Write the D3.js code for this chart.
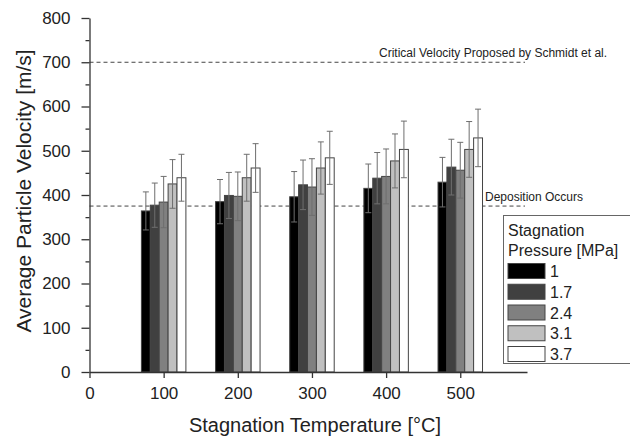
<!DOCTYPE html>
<html>
<head>
<meta charset="utf-8">
<script src="https://cdn.jsdelivr.net/npm/d3@7"></script>
<style>
  body { margin: 0; background: #fff; }
  text { font-family: "Liberation Sans", Arial, sans-serif; fill: #222; }
</style>
</head>
<body>
<script>
// data
var temps = [100, 200, 300, 400, 500];
var pressures = ["1", "1.7", "2.4", "3.1", "3.7"];
var velocity = [
  [364, 385, 396, 415, 429],
  [377, 399, 423, 438, 463],
  [384, 397, 418, 442, 456],
  [425, 439, 461, 477, 503],
  [439, 461, 484, 503, 529]
];
var errors = [
  [43, 50, 57, 55, 56],
  [50, 52, 56, 58, 63],
  [58, 55, 64, 62, 63],
  [55, 53, 59, 61, 63],
  [53, 55, 60, 64, 65]
];
var xTicks = [0, 100, 200, 300, 400, 500];
var yTicks = [0, 100, 200, 300, 400, 500, 600, 700, 800];
var yMinor = [50, 150, 250, 350, 450, 550, 650, 750];
var refLines = [
  { v: 700, label: "Critical Velocity Proposed by Schmidt et al.", tx: 379 },
  { v: 375, label: "Deposition Occurs", tx: 485 }
];
var fills = ["#000000", "#404040", "#808080", "#c0c0c0", "#ffffff"];

var width = 630, height = 437;
var svg = d3.select("body").append("svg")
    .attr("width", width)
    .attr("height", height);

var x = d3.scaleLinear().domain([0, 590]).range([89.5, 527]);
var y = d3.scaleLinear().domain([0, 800]).range([372, 18]);

var barW = 12; // in temperature units
var bw = x(barW) - x(0);

// reference dashed lines
refLines.forEach(function(r) {
  svg.append("line")
      .attr("x1", x(0))
      .attr("x2", 525)
      .attr("y1", y(r.v))
      .attr("y2", y(r.v))
      .attr("stroke", "#444")
      .attr("stroke-width", 1)
      .attr("stroke-dasharray", "4,3");
  svg.append("text")
      .attr("x", r.tx)
      .attr("y", y(r.v) - 5)
      .attr("font-size", 12)
      .text(r.label);
});

// bars
pressures.forEach(function(p, i) {
  var g = svg.append("g");
  temps.forEach(function(t, j) {
    var cx = x(t + (i - 2) * barW);
    var v = velocity[i][j];
    g.append("rect")
        .attr("x", cx - bw / 2)
        .attr("y", y(v))
        .attr("width", bw)
        .attr("height", y(0) - y(v))
        .attr("fill", fills[i])
        .attr("stroke", "#444")
        .attr("stroke-width", 1);
  });
});

// error bars
pressures.forEach(function(p, i) {
  temps.forEach(function(t, j) {
    var cx = x(t + (i - 2) * barW);
    var v = velocity[i][j], e = errors[i][j];
    svg.append("line")
        .attr("x1", cx).attr("x2", cx)
        .attr("y1", y(v - e)).attr("y2", y(v + e))
        .attr("stroke", "#6e6e6e").attr("stroke-width", 1);
    [v - e, v + e].forEach(function(d) {
      svg.append("line")
          .attr("x1", cx - 3).attr("x2", cx + 3)
          .attr("y1", y(d)).attr("y2", y(d))
          .attr("stroke", "#6e6e6e").attr("stroke-width", 1);
    });
  });
});

// axes
var xAxis = svg.append("g")
    .attr("transform", "translate(0," + y(0) + ")")
    .call(d3.axisBottom(x).tickValues(xTicks).tickSize(6).tickSizeOuter(0).tickPadding(9));
var yAxis = svg.append("g")
    .attr("transform", "translate(" + x(0) + ",0)")
    .call(d3.axisLeft(y).tickValues(yTicks).tickSize(8).tickSizeOuter(0).tickPadding(11));
svg.append("g")
    .attr("transform", "translate(" + x(0) + ",0)")
    .call(d3.axisLeft(y).tickValues(yMinor).tickSize(4).tickFormat(""))
    .select(".domain").remove();

svg.selectAll(".domain, .tick line")
    .attr("stroke", "#333")
    .attr("stroke-width", 1.3);
xAxis.selectAll("text").attr("font-size", 17).attr("fill", "#222");
yAxis.selectAll("text").attr("font-size", 17).attr("fill", "#222");

// axis titles
svg.append("text")
    .attr("x", 315)
    .attr("y", 432)
    .attr("text-anchor", "middle")
    .attr("font-size", 20)
    .text("Stagnation Temperature [°C]");
svg.append("text")
    .attr("transform", "translate(31,191) rotate(-90)")
    .attr("text-anchor", "middle")
    .attr("font-size", 21)
    .text("Average Particle Velocity [m/s]");

// legend
var leg = svg.append("g");
leg.append("rect")
    .attr("x", 503.5).attr("y", 215.5)
    .attr("width", 140).attr("height", 148)
    .attr("fill", "#fff")
    .attr("stroke", "#666")
    .attr("stroke-width", 1);
leg.append("text").attr("x", 508).attr("y", 236).attr("font-size", 16).text("Stagnation");
leg.append("text").attr("x", 508).attr("y", 256).attr("font-size", 16).text("Pressure [MPa]");
pressures.forEach(function(p, i) {
  var cy = 271 + i * 20.75;
  leg.append("rect")
      .attr("x", 508).attr("y", cy - 7.5)
      .attr("width", 37).attr("height", 15)
      .attr("fill", fills[i])
      .attr("stroke", "#444")
      .attr("stroke-width", 1);
  leg.append("text")
      .attr("x", 550).attr("y", cy + 6)
      .attr("font-size", 16)
      .text(p);
});
</script>
</body>
</html>
